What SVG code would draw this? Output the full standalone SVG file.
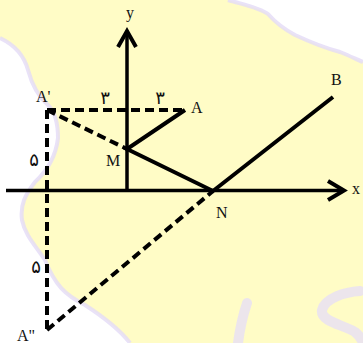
<svg xmlns="http://www.w3.org/2000/svg" width="363" height="343" viewBox="0 0 363 343">
<defs>
<style>
.bg{fill:#fffcc6}
.edge{fill:none;stroke:#e3dbf6;stroke-width:4;stroke-linejoin:round;opacity:0.8}
.wm{fill:none;stroke:#e6ddf8;stroke-width:10;stroke-linecap:round;opacity:0.75}
.ax{fill:none;stroke:#000;stroke-width:3.5;stroke-linecap:butt}
.head{fill:none;stroke:#000;stroke-width:4;stroke-linejoin:miter}
.sol{fill:none;stroke:#000;stroke-width:4}
.dash{fill:none;stroke:#000;stroke-width:4;stroke-dasharray:9,5}
.lbl{font-family:"Liberation Serif","Times New Roman",serif;font-size:16px;fill:#111}
.fa{font-family:"DejaVu Sans","Noto Sans",sans-serif;font-size:18px;fill:#111}
</style>
</defs>
<rect width="363" height="343" fill="#ffffff"/>
<g id="background">
<path class="bg" d="M0,0 L228,0 C245,5 260,8 268,14 C275,22 282,28 295,35 C310,42 325,48 340,52 C350,56 358,60 363,62 L363,343 L130,343 C120,330 105,318 85,305 C65,295 55,285 45,260 C35,245 25,235 22,220 C20,205 25,195 35,182 C48,170 56,155 58,138 C58,125 55,112 48,105 C40,98 32,85 28,70 C24,55 15,45 0,38 Z"/>
<path class="edge" d="M228,0 C245,5 260,8 268,14 C275,22 282,28 295,35 C310,42 325,48 340,52 C350,56 358,60 363,62"/>
<path class="edge" d="M0,38 C15,45 24,55 28,70 C32,85 40,98 48,105 C55,112 58,125 58,138 C56,155 48,170 35,182 C25,195 20,205 22,220 C25,235 35,245 45,260 C55,285 65,295 85,305 C105,318 120,330 130,343"/>
<path class="wm" d="M247,303 C243,315 240,328 238,343"/>
<path class="wm" d="M360,291 C345,292 325,298 322,310 C320,322 345,325 355,332 C360,336 362,340 363,343"/>
</g>
<g id="connectors">
<line class="ax" x1="6" y1="190.5" x2="343" y2="190.5"/>
<line class="ax" x1="127" y1="190.5" x2="127" y2="32"/>
<line class="dash" x1="47" y1="110" x2="185" y2="110"/>
<line class="dash" x1="47" y1="110" x2="127" y2="149"/>
<line class="dash" x1="47" y1="110" x2="47" y2="330"/>
<line class="dash" x1="47" y1="330" x2="213" y2="191"/>
<polyline class="sol" points="185,110 127,149 213,191 333,97"/>
</g>
<g id="x-arrow"><polyline class="head" points="328,181 344,190.5 328,200"/></g>
<g id="y-arrow"><polyline class="head" points="118,47 127,31 136,47"/></g>
<g id="labels">
<text class="lbl" x="130" y="18" text-anchor="middle">y</text>
<text class="lbl" x="352" y="194">x</text>
<text class="lbl" x="331" y="85">B</text>
<text class="lbl" x="191" y="113">A</text>
<text class="lbl" x="36" y="102">A'</text>
<text class="lbl" x="106" y="166">M</text>
<text class="lbl" x="216" y="218">N</text>
<text class="lbl" x="17" y="341">A"</text>
<text class="fa" x="105" y="104" text-anchor="middle">۳</text>
<text class="fa" x="160" y="104" text-anchor="middle">۳</text>
<text class="fa" x="34" y="166" text-anchor="middle">۵</text>
<text class="fa" x="36" y="273" text-anchor="middle">۵</text>
</g>
</svg>
